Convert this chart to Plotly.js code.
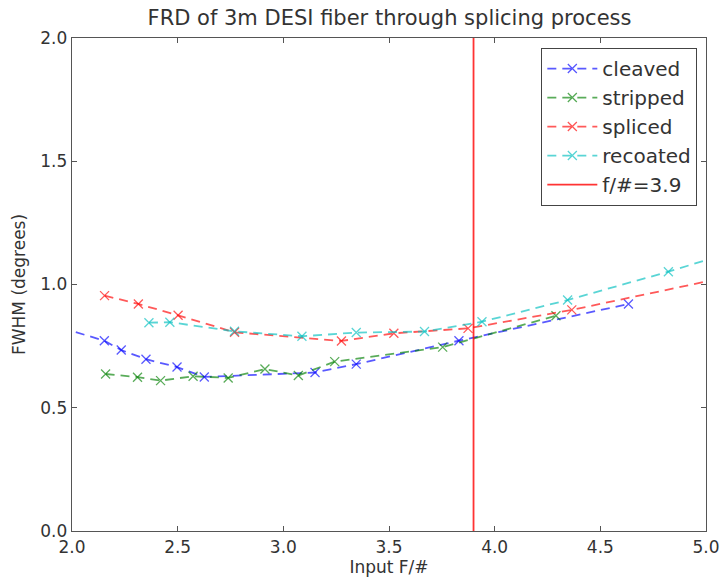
<!DOCTYPE html>
<html>
<head>
<meta charset="utf-8">
<script src="https://cdn.plot.ly/plotly-3.0.1.min.js"></script>
<style>html,body{margin:0;padding:0;background:#fff;}#chart{width:720px;height:581px;}</style>
</head>
<body>
<div id="chart"></div>
<script>
// Cleaved
const cleavedX = [1.95, 2.153, 2.233, 2.350, 2.497, 2.626, 3.150, 3.345, 3.831, 4.633];
const cleavedY = [0.824, 0.772, 0.734, 0.697, 0.665, 0.625, 0.643, 0.677, 0.772, 0.921];
// Stripped
const strippedX = [2.159, 2.310, 2.419, 2.573, 2.739, 2.913, 3.071, 3.243, 3.754, 4.290];
const strippedY = [0.637, 0.624, 0.610, 0.628, 0.621, 0.657, 0.631, 0.687, 0.746, 0.873];
// Spliced
const splicedX = [2.154, 2.314, 2.502, 2.769, 3.275, 3.523, 3.874, 4.365, 5.10];
const splicedY = [0.955, 0.921, 0.875, 0.806, 0.771, 0.802, 0.822, 0.897, 1.030];
// Recoated
const recoatedX = [2.364, 2.463, 2.769, 3.088, 3.345, 3.668, 3.940, 4.345, 4.822, 5.10];
const recoatedY = [0.845, 0.847, 0.810, 0.790, 0.805, 0.809, 0.849, 0.937, 1.052, 1.125];
// Reference line
const refFnum = 3.9;
const refLineY = [0, 2];

const seriesNames = ['cleaved', 'stripped', 'spliced', 'recoated'];
const refName = 'f/#=3.9';

const colors = ['rgba(0,0,255,0.65)', 'rgba(0,128,0,0.65)', 'rgba(255,0,0,0.65)', 'rgba(0,191,191,0.65)'];
const xs = [cleavedX, strippedX, splicedX, recoatedX];
const ys = [cleavedY, strippedY, splicedY, recoatedY];

const traces = xs.map((x, i) => ({
  x: x, y: ys[i], name: seriesNames[i], type: 'scatter', mode: 'lines+markers',
  legendgroup: 'g' + i,
  line: {color: colors[i], width: 1.8, dash: '9px,6px'},
  marker: {symbol: 'x-thin-open', size: 9, color: colors[i], line: {color: colors[i], width: 1.3}},
  cliponaxis: true
}));
traces.push({
  x: [refFnum, refFnum], y: refLineY, name: refName, type: 'scatter', mode: 'lines',
  legendgroup: 'g4',
  line: {color: 'rgba(255,0,0,0.8)', width: 1.8}
});

const axisCommon = {
  showline: true, linecolor: '#555', linewidth: 1.3, mirror: 'ticks',
  ticks: 'inside', ticklen: 5, tickcolor: '#555', tickwidth: 1,
  showgrid: false, zeroline: false, tickformat: '.1f', dtick: 0.5,
  tickfont: {family: 'DejaVu Sans', size: 17, color: '#333'}
};

const layout = {
  width: 720, height: 581,
  margin: {l: 72, r: 14, t: 38, b: 50},
  paper_bgcolor: '#fff', plot_bgcolor: '#fff',
  title: {text: 'FRD of 3m DESI fiber through splicing process', x: 0.541, xanchor: 'center', y: 0.97, yanchor: 'middle',
          font: {family: 'DejaVu Sans', size: 21, color: '#333'}},
  xaxis: Object.assign({}, axisCommon, {range: [2, 5], tick0: 2,
          title: {text: 'Input F/#', font: {family: 'DejaVu Sans', size: 17, color: '#333'}, standoff: 4}}),
  yaxis: Object.assign({}, axisCommon, {range: [0, 2], tick0: 0,
          title: {text: 'FWHM (degrees)', font: {family: 'DejaVu Sans', size: 17, color: '#333'}, standoff: 10}}),
  legend: {x: 0.986, y: 0.98, xanchor: 'right', yanchor: 'top', bgcolor: '#fff',
           bordercolor: '#444', borderwidth: 1.2, tracegroupgap: 0, itemwidth: 50,
           font: {family: 'DejaVu Sans', size: 20, color: '#333'}},
  showlegend: true
};

Plotly.newPlot('chart', traces, layout, {displayModeBar: false, staticPlot: true});
</script>
</body>
</html>
